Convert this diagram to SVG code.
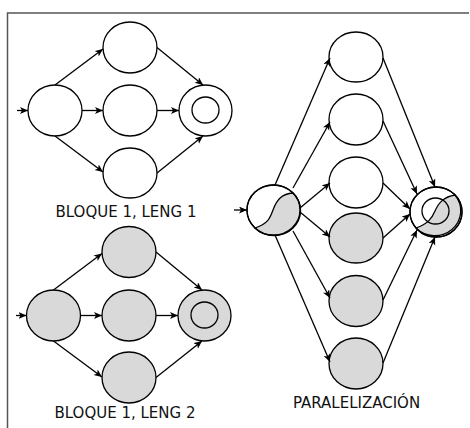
<svg xmlns="http://www.w3.org/2000/svg" width="470" height="428" viewBox="0 0 470 428">
<style>
.n{fill:#ffffff;stroke:#000;stroke-width:1.3}
.g{fill:#d9d9d9;stroke:#000;stroke-width:1.3}
.o{fill:none;stroke:#000;stroke-width:1.3}
.c line{stroke:#000;stroke-width:1.3;marker-end:url(#ah)}
.t{font-family:"DejaVu Sans",sans-serif;font-size:15px;fill:#111;text-anchor:middle}
</style>
<defs>
<marker id="ah" markerUnits="userSpaceOnUse" markerWidth="9" markerHeight="8" refX="8" refY="3.5" orient="auto">
<path d="M0,0 L8,3.5 L0,7 L2,3.5 Z" fill="#000"/>
</marker>
</defs>
<rect width="470" height="428" fill="#fff"/>
<path d="M7.5,428 V13 H469" fill="none" stroke="#555" stroke-width="1.5"/>

<!-- block 1 -->
<g id="b1-start"><ellipse class="n" cx="55" cy="110.5" rx="27" ry="25.5"/></g>
<g id="b1-top"><ellipse class="n" cx="130" cy="47.5" rx="27" ry="25.5"/></g>
<g id="b1-mid"><ellipse class="n" cx="130" cy="110.5" rx="27" ry="25.5"/></g>
<g id="b1-bot"><ellipse class="n" cx="130" cy="173" rx="27" ry="25"/></g>
<g id="b1-end"><ellipse class="n" cx="205.5" cy="110.5" rx="26.5" ry="25.5"/><ellipse class="o" cx="205.5" cy="110" rx="13.5" ry="13"/></g>
<text class="t" x="126" y="216.5">BLOQUE 1, LENG 1</text>

<!-- block 2 -->
<g id="b2-start"><ellipse class="g" cx="53.5" cy="315.5" rx="27" ry="25.5"/></g>
<g id="b2-top"><ellipse class="g" cx="129" cy="252" rx="27" ry="25.5"/></g>
<g id="b2-mid"><ellipse class="g" cx="129" cy="315.5" rx="27" ry="25.5"/></g>
<g id="b2-bot"><ellipse class="g" cx="129" cy="377.5" rx="27" ry="25.5"/></g>
<g id="b2-end"><ellipse class="g" cx="204.5" cy="315.5" rx="26.5" ry="25.5"/><ellipse class="o" cx="204.5" cy="315" rx="13.5" ry="13"/></g>
<text class="t" x="125" y="417.5">BLOQUE 1, LENG 2</text>

<!-- parallel block -->
<g id="p-split">
<ellipse class="n" cx="273.5" cy="210" rx="26.5" ry="25"/>
<path d="M255,228 C268,224 270,218 273,210 C277,199 282,194 293,193 A26.5,25 0 0,1 255,228 Z" fill="#d9d9d9" stroke="#000" stroke-width="1.3"/>
<ellipse class="o" cx="273.5" cy="210" rx="26.5" ry="25"/>
</g>
<g id="p-n1"><ellipse class="n" cx="356" cy="57" rx="27" ry="25"/></g>
<g id="p-n2"><ellipse class="n" cx="356" cy="119.5" rx="27" ry="25.5"/></g>
<g id="p-n3"><ellipse class="n" cx="356" cy="182.5" rx="27" ry="25.5"/></g>
<g id="p-n4"><ellipse class="g" cx="356" cy="238" rx="27" ry="25"/></g>
<g id="p-n5"><ellipse class="g" cx="356" cy="301" rx="27" ry="25.5"/></g>
<g id="p-n6"><ellipse class="g" cx="356" cy="363.5" rx="27" ry="25.5"/></g>
<g id="p-join">
<ellipse class="n" cx="436" cy="212" rx="26" ry="25"/>
<path d="M416,228 C428,224 432,218 435,211 C439,202 444,197 455,195 A26,25 0 0,1 416,228 Z" fill="#d9d9d9" stroke="#000" stroke-width="1.3"/>
<ellipse class="o" cx="436" cy="212" rx="26" ry="25"/>
<ellipse class="o" cx="435.5" cy="211" rx="13.5" ry="13"/>
</g>
<text class="t" x="356.5" y="408">PARALELIZACIÓN</text>

<g id="connectors" class="c">
<line x1="17" y1="110.5" x2="28" y2="110.5"/>
<line x1="55" y1="85" x2="103" y2="49"/>
<line x1="82" y1="110.5" x2="103" y2="110.5"/>
<line x1="55" y1="136" x2="103" y2="172"/>
<line x1="157" y1="47.5" x2="203" y2="85"/>
<line x1="157" y1="110.5" x2="179" y2="110.5"/>
<line x1="157" y1="173" x2="203" y2="136"/>

<line x1="16" y1="315.5" x2="26.5" y2="315.5"/>
<line x1="53.5" y1="290" x2="102" y2="253.5"/>
<line x1="80.5" y1="315.5" x2="102" y2="315.5"/>
<line x1="53.5" y1="341" x2="102" y2="377"/>
<line x1="156" y1="252" x2="202" y2="290"/>
<line x1="156" y1="315.5" x2="178" y2="315.5"/>
<line x1="156" y1="377.5" x2="202" y2="341"/>

<line x1="234" y1="210" x2="247" y2="210"/>
<line x1="275" y1="185" x2="330" y2="58"/>
<line x1="293" y1="188" x2="330" y2="122"/>
<line x1="300" y1="208" x2="330" y2="183"/>
<line x1="300" y1="212" x2="330" y2="237"/>
<line x1="293" y1="231" x2="330" y2="298"/>
<line x1="275" y1="235" x2="330" y2="362"/>
<line x1="383" y1="58" x2="435" y2="187"/>
<line x1="383" y1="121" x2="417" y2="194"/>
<line x1="383" y1="183" x2="410" y2="209"/>
<line x1="383" y1="238" x2="410" y2="214"/>
<line x1="383" y1="300" x2="417" y2="230"/>
<line x1="383" y1="363" x2="435" y2="237"/>
</g>
</svg>
